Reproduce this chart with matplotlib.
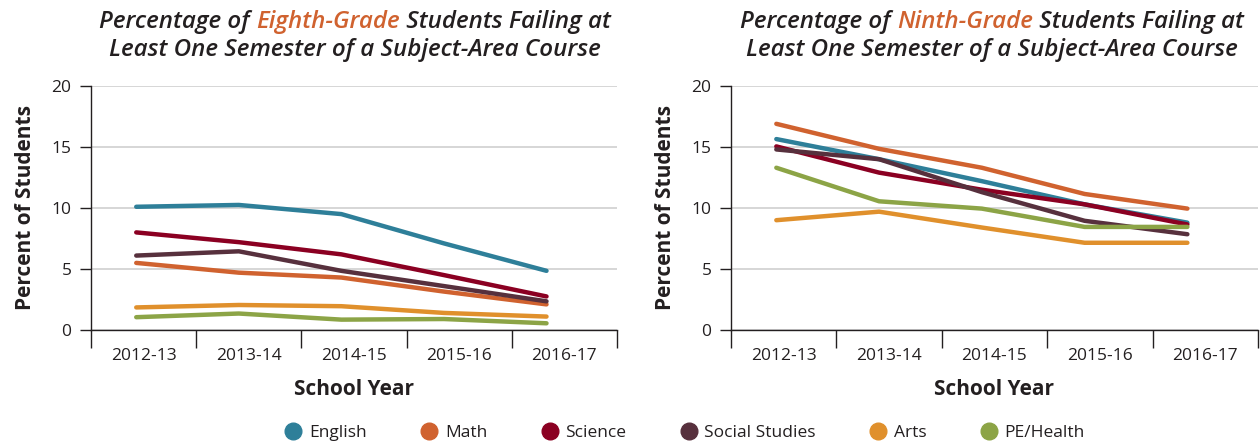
import matplotlib.pyplot as plt
from matplotlib.offsetbox import TextArea, HPacker, AnchoredOffsetbox
from matplotlib.lines import Line2D

plt.rcParams['font.family'] = ['Open Sans', 'DejaVu Sans']

years = ["2012-13", "2013-14", "2014-15", "2015-16", "2016-17"]
subjects = ["English", "Math", "Science", "Social Studies", "Arts", "PE/Health"]
colors = ["#2E7F99", "#D0622F", "#8B0022", "#57303D", "#E0902C", "#8CA446"]

# eighth grade
g8_english = [10.1, 10.25, 9.5, 7.1, 4.85]
g8_math = [5.5, 4.7, 4.3, 3.15, 2.1]
g8_science = [8.0, 7.2, 6.2, 4.5, 2.75]
g8_social = [6.1, 6.45, 4.85, 3.6, 2.35]
g8_arts = [1.85, 2.05, 1.95, 1.4, 1.1]
g8_pe = [1.05, 1.35, 0.85, 0.9, 0.55]

# ninth grade
g9_english = [15.65, 14.0, 12.2, 10.3, 8.8]
g9_math = [16.9, 14.85, 13.3, 11.15, 9.95]
g9_science = [15.05, 12.9, 11.5, 10.3, 8.65]
g9_social = [14.8, 14.0, 11.3, 8.95, 7.85]
g9_arts = [9.0, 9.7, 8.4, 7.15, 7.15]
g9_pe = [13.3, 10.55, 9.95, 8.45, 8.45]

g8 = [g8_english, g8_math, g8_science, g8_social, g8_arts, g8_pe]
g9 = [g9_english, g9_math, g9_science, g9_social, g9_arts, g9_pe]

# points sit a bit left of the category centres in the original
xpos = [-0.07 + 0.975 * i for i in range(5)]

fig = plt.figure(figsize=(12.6, 4.42), dpi=100)
ax1 = fig.add_axes([91 / 1260, 1 - 330 / 442, 526 / 1260, 244 / 442])
ax2 = fig.add_axes([731 / 1260, 1 - 330 / 442, 527 / 1260, 244 / 442])

dark = "#231F20"
for ax, data in [(ax1, g8), (ax2, g9)]:
    for vals, c in zip(data, colors):
        ax.plot(xpos, vals, color=c, lw=3.2, solid_capstyle='round', zorder=3)
    ax.set_xlim(-0.5, 4.5)
    ax.set_ylim(0, 20)
    ax.set_yticks([0, 5, 10, 15, 20])
    ax.tick_params(axis='y', length=8, width=1, color=dark, labelsize=12.5,
                   labelcolor=dark, pad=6)
    ax.set_xticks([i - 0.5 for i in range(6)])
    ax.set_xticklabels([])
    ax.set_xticks(range(5), minor=True)
    ax.set_xticklabels(years, minor=True, fontsize=12.5, color=dark)
    ax.tick_params(axis='x', which='major', length=13, width=1, color=dark)
    ax.tick_params(axis='x', which='minor', length=0, pad=13)
    for s in ['top', 'right']:
        ax.spines[s].set_visible(False)
    for s in ['left', 'bottom']:
        ax.spines[s].set_color(dark)
        ax.spines[s].set_linewidth(1)
    ax.grid(axis='y', color='#D0D0D0', lw=1.2, zorder=0)
    ax.set_axisbelow(True)
    ax.set_ylabel("Percent of Students", fontsize=15, fontweight='bold',
                  color=dark, labelpad=11)
    ax.set_xlabel("School Year", fontsize=15, fontweight='bold',
                  color=dark, labelpad=11)


def title(ax, word, cx):
    kw = dict(fontsize=17.4, fontweight='semibold', fontstyle='italic')
    parts = [TextArea("Percentage of ", textprops=dict(color=dark, **kw)),
             TextArea(word, textprops=dict(color="#D0622F", **kw)),
             TextArea(" Students Failing at", textprops=dict(color=dark, **kw))]
    box = HPacker(children=parts, pad=0, sep=0, align='baseline')
    ab = AnchoredOffsetbox(loc='center', child=box, frameon=False,
                           bbox_to_anchor=(cx, 1 - 22 / 442),
                           bbox_transform=fig.transFigure, pad=0, borderpad=0)
    fig.add_artist(ab)
    fig.text(cx, 1 - 50 / 442, "Least One Semester of a Subject-Area Course",
             ha='center', va='center', color=dark, **kw)


title(ax1, "Eighth-Grade", 355 / 1260)
title(ax2, "Ninth-Grade", 992 / 1260)

handles = [Line2D([], [], marker='o', ls='', markersize=12, color=c) for c in colors]
fig.legend(handles, subjects, loc='center', bbox_to_anchor=(684 / 1260, 1 - 433 / 442),
           ncol=6, frameon=False, fontsize=12.5, handletextpad=0.3,
           columnspacing=3.0, handlelength=1.2, labelcolor=dark)

fig.savefig("out.png", dpi=100)
